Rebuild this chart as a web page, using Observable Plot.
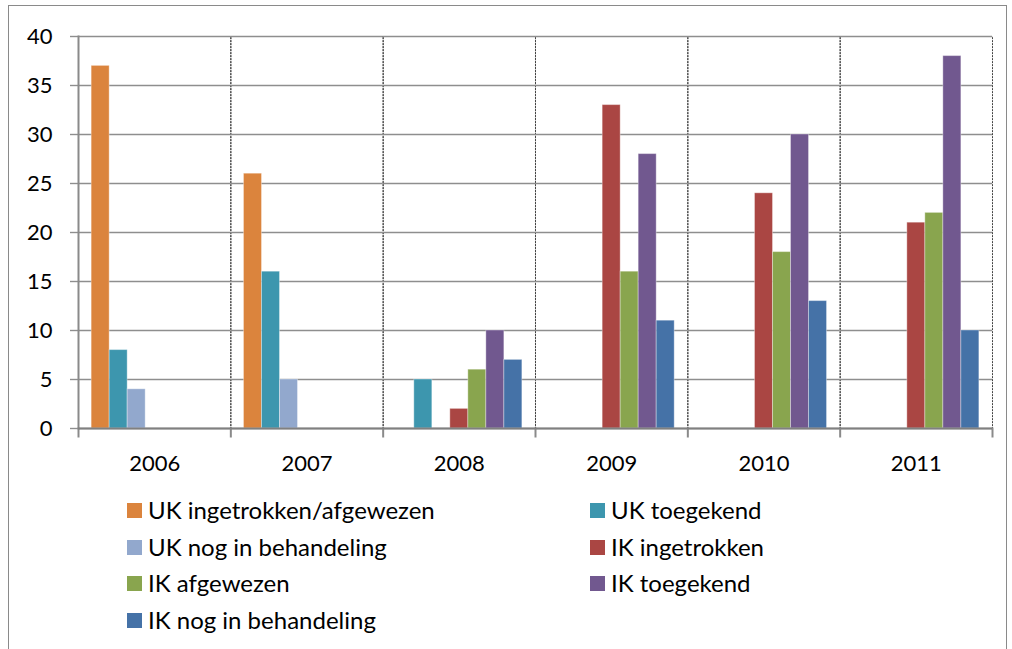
<!DOCTYPE html>
<html><head><meta charset="utf-8">
<script src="https://cdn.jsdelivr.net/npm/d3@7"></script>
<script src="https://cdn.jsdelivr.net/npm/@observablehq/plot@0.6"></script>
<style>
body{margin:0;background:#fff;font-family:Lato, "Open Sans", sans-serif}
#wrap{position:relative;width:1012px;height:649px;overflow:hidden;background:#fff}
#border{position:absolute;left:8px;top:5px;width:999px;height:670px;border:1.5px solid #8a8a8a;box-sizing:border-box}
#chart{position:absolute;left:0;top:0}
#legend{position:absolute;left:0;top:0;width:1012px;height:649px}
.item{position:absolute;display:flex;align-items:center;font-size:24px;color:#000;white-space:nowrap;line-height:30px}
.sw{width:15px;height:15px;margin-right:6px;flex:none}
</style></head><body>
<div id="wrap"><div id="border"></div><div id="chart"></div><div id="legend"></div></div>
<script>
const years = ["2006", "2007", "2008", "2009", "2010", "2011"];
const series = ["UK ingetrokken/afgewezen", "UK toegekend", "UK nog in behandeling", "IK ingetrokken", "IK afgewezen", "IK toegekend", "IK nog in behandeling"];
const colors = ["#db843d", "#3d96ae", "#92a8cd", "#aa4643", "#89a54e", "#71588f", "#4572a7"];
const ukIngetrokkenAfgewezen = [37, 26, 0, 0, 0, 0];
const ukToegekend = [8, 16, 5, 0, 0, 0];
const ukNogInBehandeling = [4, 5, 0, 0, 0, 0];
const ikIngetrokken = [0, 0, 2, 33, 24, 21];
const ikAfgewezen = [0, 0, 6, 16, 18, 22];
const ikToegekend = [0, 0, 10, 28, 30, 38];
const ikNogInBehandeling = [0, 0, 7, 11, 13, 10];
const yTicks = [0, 5, 10, 15, 20, 25, 30, 35, 40];

const valuesBySeries = [ukIngetrokkenAfgewezen, ukToegekend, ukNogInBehandeling, ikIngetrokken, ikAfgewezen, ikToegekend, ikNogInBehandeling];
const rows = [];
series.forEach((s, i) => years.forEach((y, j) => rows.push({year: y, series: s, value: valuesBySeries[i][j]})));

const W = 1012, H = 492, mT = 36, mB = 64;
const innerH = H - mT - mB;
const tickLen = 8;

const plot = Plot.plot({
  width: W, height: H,
  marginLeft: 78, marginRight: 20, marginTop: mT, marginBottom: mB,
  style: {fontFamily: "Lato, 'Open Sans', sans-serif", fontSize: "22px", color: "#000", background: "transparent"},
  fx: {domain: years, paddingInner: 0, paddingOuter: 0, label: null, round: false},
  x: {domain: series, axis: null, paddingInner: 0, paddingOuter: 0.73, round: false},
  y: {domain: [0, 40], label: null},
  color: {domain: series, range: colors},
  marks: [
    Plot.frame({stroke: "#444", strokeDasharray: "2,1", strokeWidth: 1}),
    Plot.gridY(yTicks, {stroke: "#8e8e8e", strokeOpacity: 1, strokeWidth: 1.4}),
    Plot.axisY(yTicks, {tickSize: tickLen, tickPadding: 18, stroke: "#8e8e8e", strokeWidth: 1.4, fill: "#000", fontSize: 22, label: null}),
    Plot.frame({anchor: "left", facetAnchor: "left", stroke: "#8a8a8a", strokeWidth: 2}),
    Plot.frame({anchor: "left", stroke: "#8a8a8a", strokeWidth: 2, insetTop: innerH, insetBottom: -tickLen}),
    Plot.frame({anchor: "right", facetAnchor: "right", stroke: "#8a8a8a", strokeWidth: 2, insetTop: innerH, insetBottom: -tickLen}),
    Plot.axisFx({anchor: "bottom", tickSize: 0, tickPadding: 27, fontSize: 22, label: null, fill: "#000"}),
    Plot.barY(rows.filter(d => d.value > 0), {fx: "year", x: "series", y: "value", fill: "series", stroke: "#ffffff", strokeOpacity: 0.35, strokeWidth: 1}),
    Plot.ruleY([0], {stroke: "#808080", strokeWidth: 2})
  ]
});
document.getElementById("chart").appendChild(plot);

// legend (two columns, row-major like the reference)
const legend = document.getElementById("legend");
const colX = [127, 590];
const rowY = [510, 547, 583, 620];
series.forEach((s, i) => {
  const div = document.createElement("div");
  div.className = "item";
  div.style.left = colX[i % 2] + "px";
  div.style.top = (rowY[Math.floor(i / 2)] - 15) + "px";
  div.innerHTML = `<span class="sw" style="background:${colors[i]}"></span><span>${s}</span>`;
  legend.appendChild(div);
});
</script>
</body></html>
